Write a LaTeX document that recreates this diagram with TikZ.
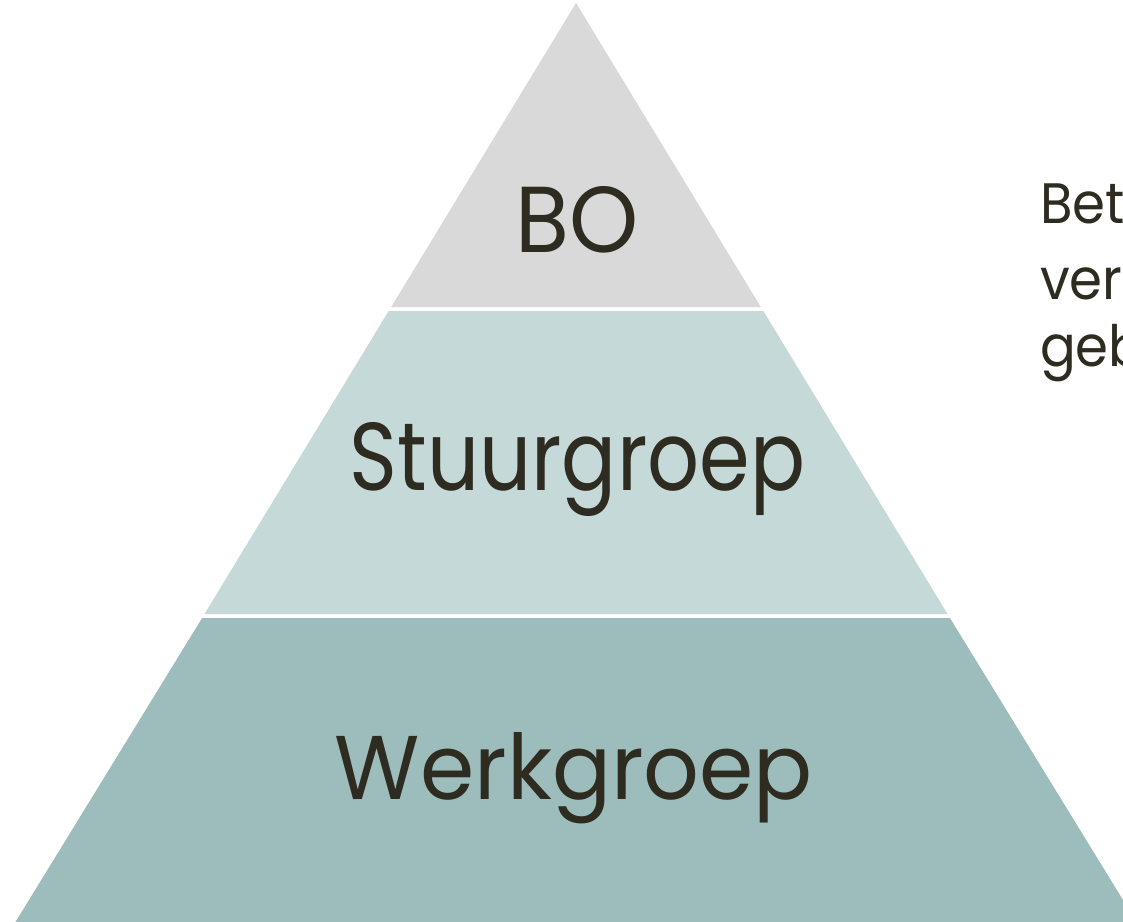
\documentclass[tikz,border=0pt]{standalone}
\usepackage{fontspec}
\setmainfont{Poppins}
\usepackage{graphicx}
\definecolor{bandtop}{HTML}{D9D9D9}
\definecolor{bandmid}{HTML}{C4D9D8}
\definecolor{bandbot}{HTML}{9CBDBC}
\definecolor{ink}{RGB}{46,43,32}
\tikzset{
  band/.style={draw=none},
  lbl/.style={inner sep=0pt, outer sep=0pt, text=ink, anchor=base},
  side/.style={inner sep=0pt, outer sep=0pt, text=ink, anchor=base west, font=\fontsize{57}{72}\selectfont}
}
\begin{document}
\begin{tikzpicture}[x=1pt,y=-1pt]
\useasboundingbox (0,0) rectangle (1123,921);
\clip (0,0) rectangle (1123,921);
\fill[white] (0,0) rectangle (1123,921);
% pyramid bands
\fill[band, bandtop] (576,3) -- (760.8,307) -- (391.2,307) -- cycle;
\fill[band, bandmid] (388.7,311) -- (763.3,311) -- (947.5,614) -- (204.5,614) -- cycle;
\fill[band, bandbot] (202.1,618) -- (949.9,618) -- (1139.6,927) -- (12.4,927) -- cycle;
% labels
\node[lbl] (bo) at (577.5,252) {\resizebox{123pt}{66pt}{BO}};
\node[lbl] (stuur) at (577.5,490) {\resizebox{455pt}{68pt}{Stuurgroep}};
\node[lbl] (werk) at (574,799) {\resizebox{478pt}{67pt}{Werkgroep}};
% side text (clipped at the right edge)
\node[side] (l1) at (1040,223) {\scalebox{0.93}[1]{Bet}};
\node[side] (l2) at (1040,299) {\scalebox{0.93}[1]{vera}};
\node[side] (l3) at (1040,366) {\scalebox{0.93}[1]{geb}};
\end{tikzpicture}
\end{document}
